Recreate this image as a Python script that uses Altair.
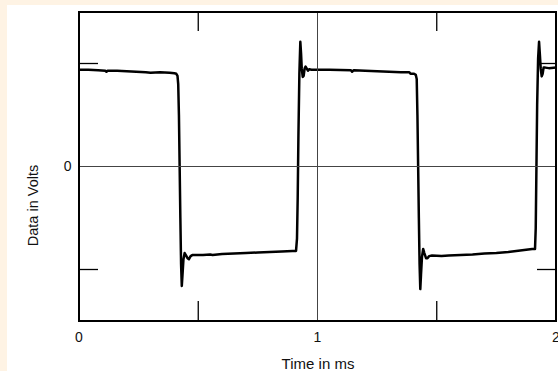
import altair as alt
import pandas as pd

# Waveform samples (time in ms, data in volts)
time_ms = [0.000, 0.040, 0.080, 0.110, 0.115, 0.120, 0.160, 0.200, 0.240, 0.280, 0.300, 0.340, 0.380,
           0.400, 0.408, 0.413, 0.416, 0.419, 0.422, 0.425, 0.428, 0.431, 0.434, 0.438, 0.443, 0.448,
           0.455, 0.461, 0.468, 0.475, 0.520, 0.550, 0.560, 0.600, 0.650, 0.700, 0.750, 0.800, 0.850,
           0.895, 0.910, 0.914, 0.917, 0.920, 0.924, 0.928, 0.931, 0.934, 0.938, 0.942, 0.946, 0.950,
           0.955, 0.960, 0.965, 0.975, 1.050, 1.140, 1.145, 1.152, 1.200, 1.250, 1.300, 1.350, 1.385,
           1.390, 1.405, 1.412, 1.416, 1.419, 1.422, 1.425, 1.428, 1.431, 1.434, 1.438, 1.443, 1.448,
           1.455, 1.461, 1.468, 1.480, 1.520, 1.550, 1.600, 1.650, 1.700, 1.750, 1.800, 1.850, 1.900,
           1.912, 1.915, 1.918, 1.921, 1.925, 1.929, 1.932, 1.936, 1.940, 1.944, 1.948, 1.955, 1.970,
           2.000]
volts = [0.94, 0.94, 0.935, 0.93, 0.92, 0.93, 0.93, 0.925, 0.92, 0.915, 0.91, 0.915, 0.91,
         0.905, 0.90, 0.88, 0.80, 0.50, 0.00, -0.50, -0.95, -1.16, -1.05, -0.90, -0.84, -0.86,
         -0.89, -0.90, -0.87, -0.86, -0.86, -0.855, -0.86, -0.85, -0.845, -0.84, -0.835, -0.83, -0.825,
         -0.82, -0.82, -0.70, -0.30, 0.30, 0.90, 1.21, 1.10, 0.95, 0.87, 0.88, 0.95, 0.97,
         0.95, 0.93, 0.945, 0.94, 0.94, 0.935, 0.92, 0.935, 0.93, 0.925, 0.92, 0.915, 0.915,
         0.90, 0.90, 0.89, 0.85, 0.50, 0.00, -0.50, -0.95, -1.19, -1.05, -0.88, -0.80, -0.84,
         -0.89, -0.89, -0.87, -0.865, -0.87, -0.865, -0.86, -0.855, -0.845, -0.84, -0.83, -0.815, -0.80,
         -0.80, -0.60, 0.00, 0.60, 1.05, 1.21, 1.10, 0.95, 0.875, 0.90, 0.96, 0.96, 0.955,
         0.96]

x_labels = [0, 1, 2]
x_label_text = ["0", "1", "2"]
y_labels = [0]
x_minor_ticks = [0.5, 1.5]
y_minor_ticks = [-1, 1]
x_center = [1]
y_center = [0]

FONT = "Liberation Sans"
W, H = 477, 309

wave = pd.DataFrame({"t": time_ms, "v": volts})

xscale = alt.Scale(domain=[0, 2], nice=False, zero=False)
yscale = alt.Scale(domain=[-1.5, 1.5], nice=False, zero=False)

xaxis = alt.Axis(values=x_labels, labels=False, domain=False, ticks=False, grid=False,
                 titleFont=FONT, titleFontSize=15, titleFontWeight="normal", titleColor="#111",
                 titleBaseline="alphabetic", titleY=47, zindex=1)
yaxis = alt.Axis(values=y_labels, format="d", domain=False, ticks=False, grid=False,
                 labelPadding=8, labelFontSize=14, labelFont=FONT, labelColor="#111",
                 titleFont=FONT, titleFontSize=14.5, titleFontWeight="normal", titleColor="#111",
                 titleAngle=-90, titleAlign="center", titleBaseline="middle",
                 titleX=-46, titleY=193, labelOverlap=False, zindex=1)
XT = "Time in ms"
YT = "Data in Volts"


def X(field):
    return alt.X(field, type="quantitative", scale=xscale, axis=xaxis, title=XT)


def Y(field):
    return alt.Y(field, type="quantitative", scale=yscale, axis=yaxis, title=YT)


one = pd.DataFrame({"a": [0]})

# cream margin strips (left and top) of the scanned page
strip_left = alt.Chart(one).mark_rect(color="#fef3e4").encode(
    x=alt.value(-79), x2=alt.value(-72), y=alt.value(-12), y2=alt.value(H + 50)
)
strip_top = alt.Chart(one).mark_rect(color="#fef3e4").encode(
    x=alt.value(-79), x2=alt.value(W + 2), y=alt.value(-12), y2=alt.value(-7)
)

vline = alt.Chart(pd.DataFrame({"x": x_center})).mark_rule(color="#444", strokeWidth=1).encode(x=X("x"))
hline = alt.Chart(pd.DataFrame({"y": y_center})).mark_rule(color="#444", strokeWidth=1).encode(y=Y("y"))

tick_df_y = pd.DataFrame({"y": y_minor_ticks})
tick_df_x = pd.DataFrame({"x": x_minor_ticks})
left_ticks = alt.Chart(tick_df_y).mark_rule(color="black", strokeWidth=1.3).encode(
    y=Y("y"), x=alt.value(0), x2=alt.value(19)
)
right_ticks = alt.Chart(tick_df_y).mark_rule(color="black", strokeWidth=1.3).encode(
    y=Y("y"), x=alt.value(W - 19), x2=alt.value(W)
)
top_ticks = alt.Chart(tick_df_x).mark_rule(color="black", strokeWidth=1.3).encode(
    x=X("x"), y=alt.value(0), y2=alt.value(19)
)
bottom_ticks = alt.Chart(tick_df_x).mark_rule(color="black", strokeWidth=1.3).encode(
    x=X("x"), y=alt.value(H - 20), y2=alt.value(H)
)

xlab = alt.Chart(pd.DataFrame({"x": x_labels, "s": x_label_text})).mark_text(
    font=FONT, fontSize=14, color="#111", align="center", baseline="alphabetic"
).encode(x=X("x"), y=alt.value(H + 21), text="s:N")

frame = alt.Chart(one).mark_rect(
    fill=None, fillOpacity=0, stroke="black", strokeWidth=2
).encode(x=alt.value(0), x2=alt.value(W), y=alt.value(0), y2=alt.value(H))

line = alt.Chart(wave).mark_line(color="black", strokeWidth=2.5, strokeJoin="round").encode(
    x=X("t"), y=Y("v")
)

chart = alt.layer(line, vline, hline, left_ticks, right_ticks, top_ticks, bottom_ticks,
                  xlab, strip_left, strip_top, frame).properties(
    width=W, height=H,
    padding={"left": 79, "top": 12, "right": 2, "bottom": 50},
    autosize=alt.AutoSizeParams(type="none"),
    background="white",
).configure_view(stroke=None)

chart.save("out.html", embed_options={"renderer": "svg", "actions": False})
